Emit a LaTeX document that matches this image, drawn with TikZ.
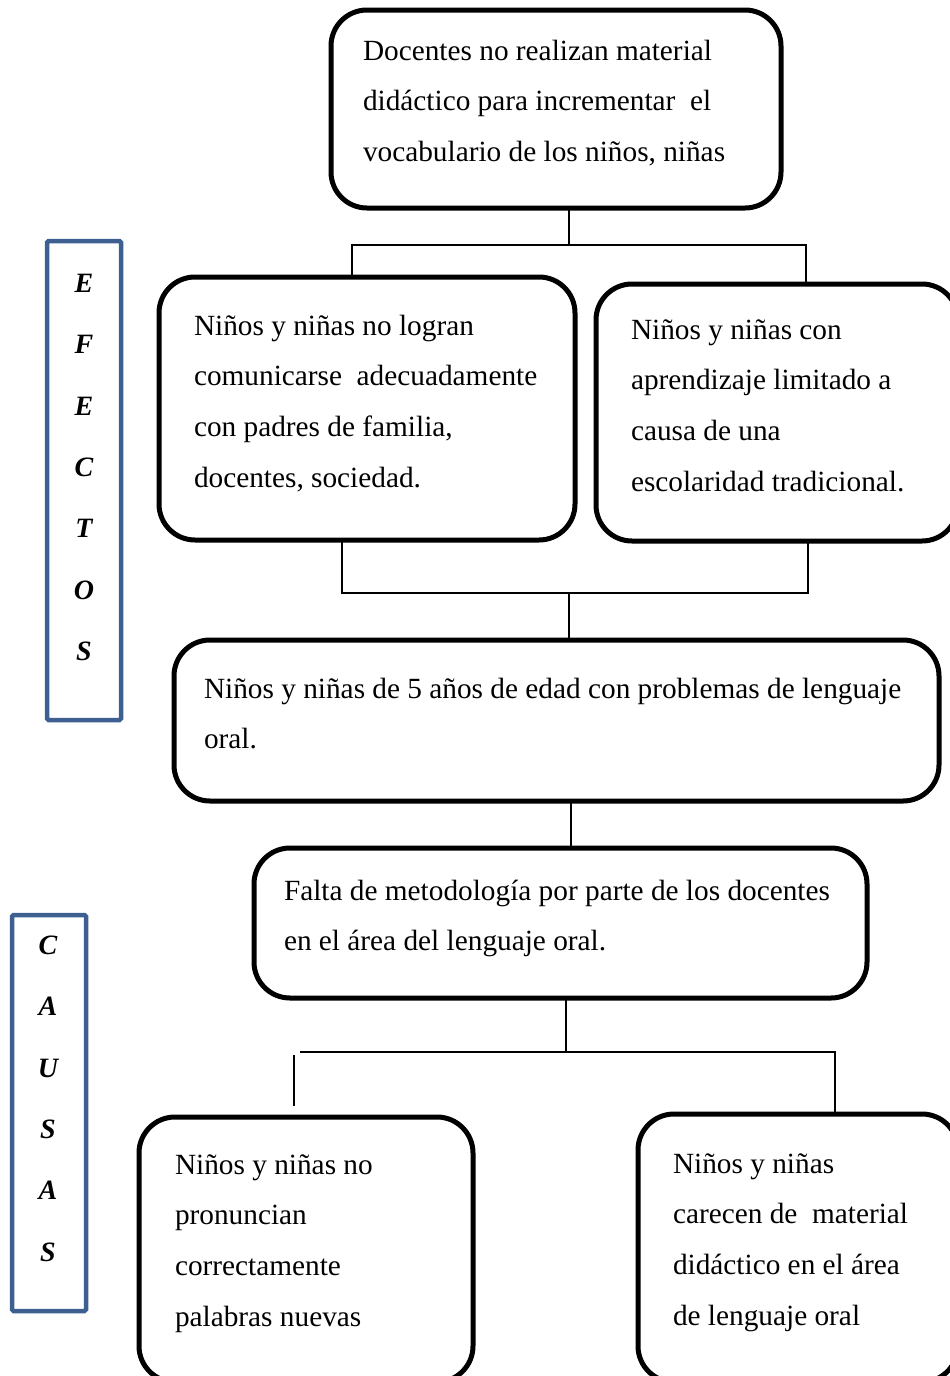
\documentclass[tikz,border=0pt]{standalone}
\usepackage{fontspec}
\setmainfont{Liberation Serif}
\definecolor{sideblue}{RGB}{62,96,145}
\begin{document}
\begin{tikzpicture}[x=1pt,y=-1pt,
  box/.style={draw=black, line width=5pt, rounded corners=36pt, inner sep=0pt, outer sep=0pt, fill=none},
  sidebox/.style={draw=sideblue, line width=4.5pt, rounded corners=1.5pt, inner sep=0pt, outer sep=0pt},
  txt/.style={anchor=base west, inner sep=0pt, outer sep=0pt, font=\fontsize{29.3}{50.8}\selectfont},
  sidetxt/.style={anchor=base, inner sep=0pt, outer sep=0pt, font=\fontsize{28}{61.3}\selectfont\bfseries\itshape},
  conn/.style={draw=black, line width=2pt}]
\useasboundingbox (0,0) rectangle (950,1376);
% boxes
\node[box, minimum width=450pt, minimum height=198pt] (top) at (556,109) {};
\node[box, minimum width=416pt, minimum height=263pt] (effL) at (367,408.5) {};
\node[box, minimum width=362pt, minimum height=257pt] (effR) at (777,412.5) {};
\node[box, minimum width=765pt, minimum height=161pt] (mid) at (556.5,720.5) {};
\node[box, minimum width=613pt, minimum height=150pt] (cause) at (560.5,923) {};
\node[box, minimum width=334pt, minimum height=265pt] (bL) at (306,1249.5) {};
\node[box, minimum width=320pt, minimum height=268pt] (bR) at (798,1248) {};
% side boxes
\node[sidebox, minimum width=74pt, minimum height=479pt] (efectos) at (84,480.5) {};
\node[sidebox, minimum width=74pt, minimum height=396pt] (causas) at (49,1113) {};
% texts
\node[txt] (topT) at (363,60) {\parbox[t]{600pt}{\raggedright Docentes no realizan material\\didáctico para incrementar\ \ el\\vocabulario de los niños, niñas}};
\node[txt] (effLT) at (194,335) {\parbox[t]{600pt}{\raggedright Niños y niñas no logran\\comunicarse\ \ adecuadamente\\con padres de familia,\\docentes, sociedad.}};
\node[txt] (effRT) at (631,339) {\parbox[t]{600pt}{\raggedright Niños y niñas con\\aprendizaje limitado a\\causa de una\\escolaridad tradicional.}};
\node[txt] (midT) at (204,698) {\parbox[t]{900pt}{\raggedright Niños y niñas de 5 años de edad con problemas de lenguaje\\oral.}};
\node[txt] (causeT) at (284,900) {\parbox[t]{900pt}{\raggedright Falta de metodología por parte de los docentes\\en el área del lenguaje oral.}};
\node[txt] (bLT) at (175,1174) {\parbox[t]{600pt}{\raggedright Niños y niñas no\\pronuncian\\correctamente\\palabras nuevas}};
\node[txt] (bRT) at (673,1173) {\parbox[t]{600pt}{\raggedright Niños y niñas\\carecen de\ \ material\\didáctico en el área\\de lenguaje oral}};
\node[sidetxt] (efT) at (84,292.5) {\parbox[t]{60pt}{\centering E\\F\\E\\C\\T\\O\\S}};
\node[sidetxt] (caT) at (48,954.5) {\parbox[t]{60pt}{\centering C\\A\\U\\S\\A\\S}};
% connectors
\coordinate (j1) at (569,245);
\coordinate (a1) at (352,245);
\coordinate (a2) at (806,245);
\draw[conn] (j1 |- top.south) -- (j1);
\draw[conn] (a1 |- effL.north) -- (a1) -- (a2) -- (a2 |- effR.north);
\coordinate (j2) at (569,593);
\coordinate (b1) at (342,593);
\coordinate (b2) at (808,593);
\draw[conn] (b1 |- effL.south) -- (b1) -- (b2) -- (b2 |- effR.south);
\draw[conn] (j2) -- (j2 |- mid.north);
\coordinate (c3) at (571,825);
\draw[conn] (c3 |- mid.south) -- (c3 |- cause.north);
\coordinate (j4) at (566,1052);
\coordinate (d1) at (300,1052);
\coordinate (d2) at (835,1052);
\draw[conn] (j4 |- cause.south) -- (j4);
\draw[conn] (d1) -- (d2) -- (d2 |- bR.north);
\coordinate (e1) at (294,1055);
\coordinate (e2) at (294,1106);
\draw[conn] (e1) -- (e2);
\end{tikzpicture}
\end{document}
